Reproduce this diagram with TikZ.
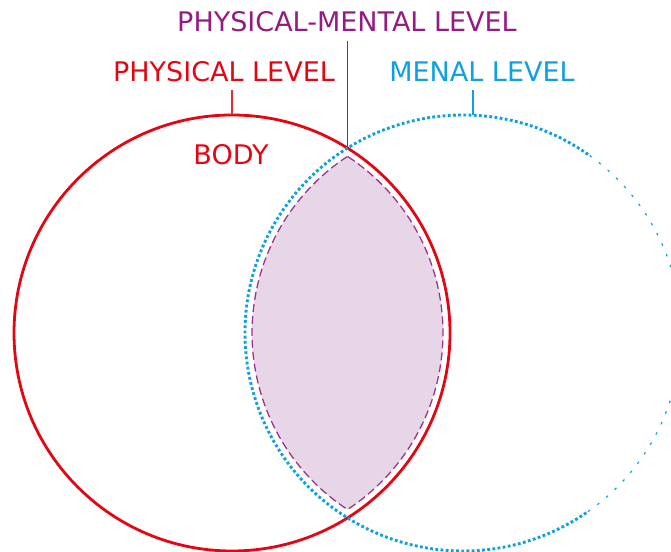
\documentclass[tikz,border=0pt]{standalone}
\usepackage{fontspec}
\setmainfont{DejaVu Sans}
\definecolor{physred}{HTML}{E30613}
\definecolor{mentblue}{HTML}{0EA0E0}
\definecolor{mixpurple}{HTML}{951B81}
\definecolor{lensfill}{HTML}{E6D6E8}
\begin{document}
\begin{tikzpicture}[x=1pt,y=1pt,
  lbl/.style={font=\fontsize{27}{31}\selectfont, inner sep=0pt, anchor=base},
  lvl/.style={circle, minimum size=436pt, inner sep=0pt, outer sep=0pt},
  conn/.style={line width=1.4pt}]
\useasboundingbox (0,0) rectangle (671,551);
% lens
\fill[lensfill] (347.5,394.6) arc[start angle=123.2, end angle=236.8, radius=211]
  arc[start angle=-56.8, end angle=56.8, radius=211] -- cycle;
\draw[mixpurple!90, line width=1.3pt, dash pattern=on 8pt off 4pt] (347.5,394.6) arc[start angle=123.2, end angle=236.8, radius=211]
  arc[start angle=-56.8, end angle=56.8, radius=211] -- cycle;
% circles
\node[lvl, draw=physred, line width=2.8pt] (physical) at (232,218) {};
\node[lvl] (mental) at (463,218) {};
\draw[mentblue, line width=2.9pt, dash pattern=on 2.8pt off 2.4pt]
  (mental.center) ++(55:218) arc[start angle=55, end angle=305, radius=218];
\draw[mentblue, line width=1.2pt, dash pattern=on 2.5pt off 9pt]
  (mental.center) ++(-55:218) arc[start angle=-55, end angle=55, radius=218];
% labels
\node[lbl, text=mixpurple] (mixlbl) at (347,519) {PHYSICAL-MENTAL LEVEL};
\node[lbl, text=physred] (physlbl) at (224,469) {PHYSICAL LEVEL};
\node[lbl, text=mentblue] (mentlbl) at (482,469) {MENAL LEVEL};
\node[lbl, text=physred] (body) at (231,386) {BODY};
% connectors
\coordinate (topx) at (347.5,403);
\coordinate (mentaltop) at (473,435.8);
\coordinate (mixstart) at (347.5,510);
\coordinate (physstart) at (232,461);
\coordinate (mentstart) at (473,461);
\draw[conn, mixpurple] (mixstart) -- (topx);
\draw[conn, physred!85] (physstart) -- (physical.north);
\draw[conn, mentblue] (mentstart) -- (mentaltop);
\end{tikzpicture}
\end{document}
